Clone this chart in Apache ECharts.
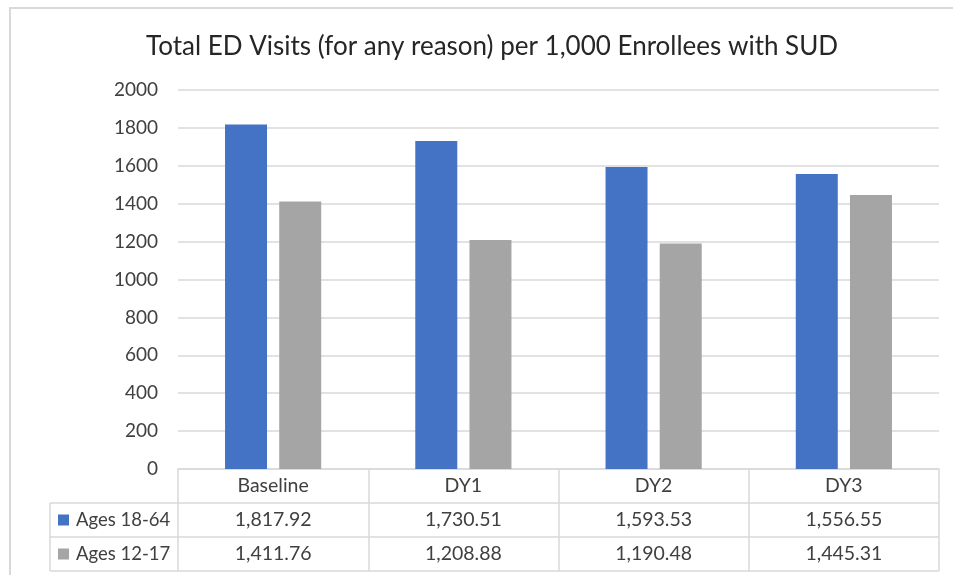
<!DOCTYPE html>
<html>
<head>
<meta charset="utf-8">
<script src="https://cdn.jsdelivr.net/npm/echarts@6/dist/echarts.min.js"></script>
<style>
  html, body { margin: 0; padding: 0; background: #fff; }
  #main { width: 953px; height: 575px; }
</style>
</head>
<body>
<div id="main"></div>
<script>
const categories = ['Baseline', 'DY1', 'DY2', 'DY3']
const ages1864 = [1817.92, 1730.51, 1593.53, 1556.55]
const ages1217 = [1411.76, 1208.88, 1190.48, 1445.31]
const seriesNames = ['Ages 18-64', 'Ages 12-17']
const colors = ['#4472C4', '#A5A5A5']

const FONT = 'Lato'
const LINE = '#d9d9d9'
const TEXT = '#404040'

// grid / table layout
const gridLeft = 178
const gridRight = 14
const gridTop = 90
const gridBottom = 106
const rowH = 34
const keyLeft = 50

const chart = echarts.init(document.getElementById('main'))

const fmt = (v) => v.toLocaleString('en-US', { minimumFractionDigits: 2, maximumFractionDigits: 2 })

const option = {
  animation: false,
  textStyle: { fontFamily: FONT },
  title: {
    text: 'Total ED Visits (for any reason) per 1,000 Enrollees with SUD',
    left: 141,
    top: 29,
    textStyle: { fontFamily: FONT, fontSize: 26, fontWeight: 'normal', color: '#262626' },
  },
  grid: { left: gridLeft, right: gridRight, top: gridTop, bottom: gridBottom },
  xAxis: {
    type: 'category',
    data: categories,
    axisLine: { show: true, lineStyle: { color: LINE, width: 1.5 } },
    axisTick: { show: true, length: rowH * 3, lineStyle: { color: LINE, width: 1.5 } },
    axisLabel: { color: TEXT, fontSize: 19.5, fontFamily: FONT, margin: 7 },
  },
  yAxis: {
    type: 'value',
    min: 0,
    max: 2000,
    interval: 200,
    axisLine: { show: false },
    axisTick: { show: false },
    axisLabel: { color: TEXT, fontSize: 19, fontFamily: FONT, margin: 20, formatter: (v) => String(v) },
    splitLine: { lineStyle: { color: LINE, width: 1.5 } },
  },
  series: [
    { name: seriesNames[0], type: 'bar', data: ages1864, barWidth: 42, barGap: '29%', itemStyle: { color: colors[0] } },
    { name: seriesNames[1], type: 'bar', data: ages1217, barWidth: 42, itemStyle: { color: colors[1] } },
  ],
}
chart.setOption(option)

// data table under the axis, placed from the axis scale
const y0 = chart.convertToPixel({ yAxisIndex: 0 }, 0)
const xRight = 953 - gridRight
const graphics = [
  { type: 'rect', shape: { x: 10, y: 8, width: 960, height: 600 }, style: { fill: 'none', stroke: LINE, lineWidth: 2 }, z: -1 },
]
const rows = [ages1864, ages1217]
rows.forEach((vals, r) => {
  const top = y0 + rowH * (r + 1)
  graphics.push({ type: 'line', shape: { x1: keyLeft, y1: top, x2: xRight, y2: top }, style: { stroke: LINE, lineWidth: 1.5 } })
  graphics.push({ type: 'rect', shape: { x: keyLeft + 8, y: top + rowH / 2 - 5.5, width: 11, height: 11 }, style: { fill: colors[r] } })
  graphics.push({
    type: 'text', x: keyLeft + 26, y: top + rowH / 2,
    style: { text: seriesNames[r], font: `18.5px ${FONT}`, fill: TEXT, verticalAlign: 'middle' },
  })
  vals.forEach((v, i) => {
    graphics.push({
      type: 'text', x: chart.convertToPixel({ xAxisIndex: 0 }, categories[i]), y: top + rowH / 2,
      style: { text: fmt(v), font: `19.5px ${FONT}`, fill: TEXT, align: 'center', verticalAlign: 'middle' },
    })
  })
})
const bottom = y0 + rowH * 3
graphics.push({ type: 'line', shape: { x1: keyLeft, y1: bottom, x2: xRight, y2: bottom }, style: { stroke: LINE, lineWidth: 1.5 } })
graphics.push({ type: 'line', shape: { x1: keyLeft, y1: y0 + rowH, x2: keyLeft, y2: bottom }, style: { stroke: LINE, lineWidth: 1.5 } })
chart.setOption({ graphic: graphics })
</script>
</body>
</html>
